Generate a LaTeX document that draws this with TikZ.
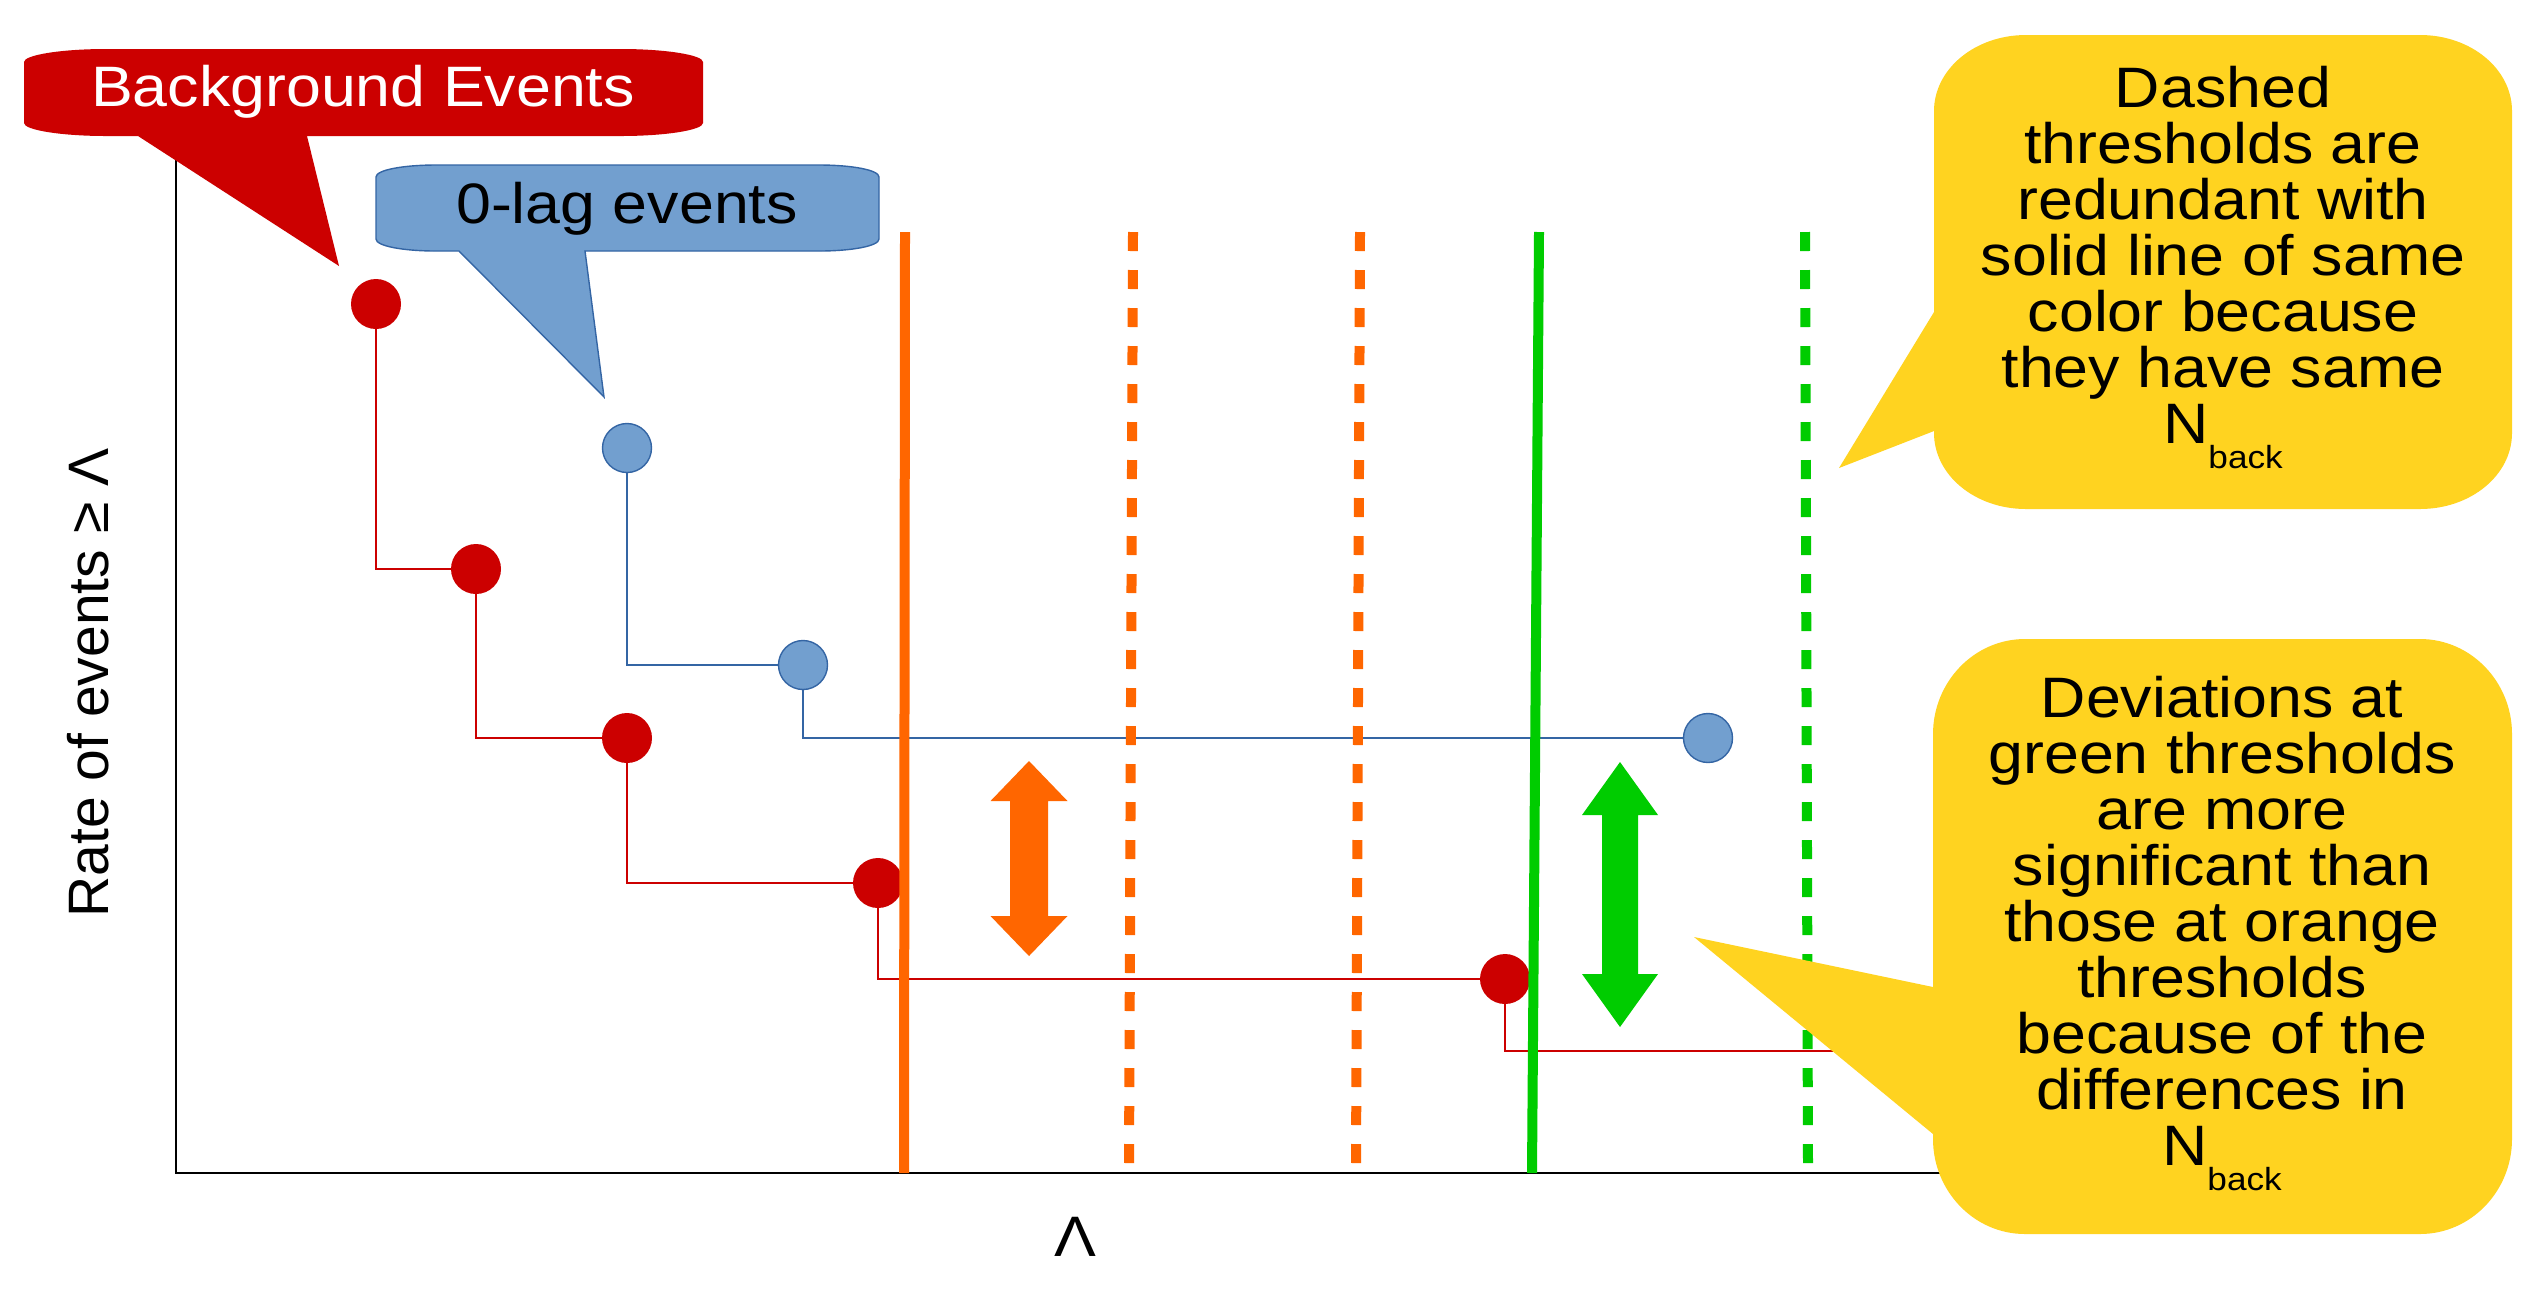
\documentclass[tikz,border=0pt]{standalone}
\usepackage{fontspec}
\setmainfont{Liberation Sans}
\newfontfamily\sfont[FakeStretch=1.1]{Liberation Sans}
\newfontfamily\rfont{Liberation Sans}
\definecolor{redc}{HTML}{CC0000}
\definecolor{bluef}{HTML}{729FCF}
\definecolor{bluel}{HTML}{3465A4}
\definecolor{orangec}{HTML}{FF6600}
\definecolor{greenc}{HTML}{00CC00}
\definecolor{yellowc}{HTML}{FFD320}
\newcommand\clines[1]{\vtop{\baselineskip=28pt\lineskiplimit=-100pt\lineskip=0pt\halign{\hfil##\hfil\cr#1\crcr}}}
\newcommand\nback{N\raisebox{-12.5pt}{\fontsize{16pt}{16pt}\selectfont back}}
\begin{document}
\begin{tikzpicture}[x=0.5pt,y=-0.5pt,
  reddot/.style={circle, fill=redc, inner sep=0pt, minimum size=25pt},
  bluedot/.style={circle, fill=bluef, draw=bluel, line width=0.7pt, inner sep=0pt, minimum size=24.5pt},
  redstep/.style={draw=redc, line width=0.75pt},
  bluestep/.style={draw=bluel, line width=0.75pt},
  axisline/.style={draw=black, line width=1pt},
  solidth/.style={line width=5pt},
  dashth/.style={line width=5pt, dash pattern=on 9.5pt off 9.5pt},
  ctext/.style={font=\sfont\fontsize{28.5pt}{28pt}\selectfont, inner sep=0pt, anchor=base}]
\path[use as bounding box, fill=white] (0,0) rectangle (2537,1298);

% axes
\coordinate (ytop) at (176,140);
\coordinate (orig) at (176,1173);
\coordinate (xend) at (1960,1173);
\draw[axisline] (ytop) -- (orig) -- (xend);

% points
\node[reddot] (r1) at (376,304) {};
\node[reddot] (r2) at (476,569) {};
\node[reddot] (r3) at (627,738) {};
\node[reddot] (r4) at (878,883) {};
\node[reddot] (r5) at (1505,979) {};
\coordinate (rend) at (1960,1051);
\node[bluedot] (b1) at (627,448) {};
\node[bluedot] (b2) at (803,665) {};
\node[bluedot] (b3) at (1708,738) {};

% step lines between the dots
\path[redstep] (r1.south) |- (r2.west) (r2.south) |- (r3.west) (r3.south) |- (r4.west) (r4.south) |- (r5.west) (r5.south) |- (rend);
\path[bluestep] (b1.south) |- (b2.west) (b2.south) |- (b3.west);

% thresholds
\coordinate (o1t) at (905,232);  \coordinate (o1b) at (904,1173);
\coordinate (o2t) at (1133,232); \coordinate (o2b) at (1129,1166);
\coordinate (o3t) at (1360,232); \coordinate (o3b) at (1356,1166);
\coordinate (g1t) at (1539,232); \coordinate (g1b) at (1532,1173);
\coordinate (g2t) at (1805,232); \coordinate (g2b) at (1808,1166);
\draw[solidth, orangec] (o1t) -- (o1b);
\draw[dashth, orangec] (o2t) -- (o2b);
\draw[dashth, orangec] (o3t) -- (o3b);
\draw[solidth, greenc] (g1t) -- (g1b);
\draw[dashth, greenc] (g2t) -- (g2b);

% double arrows
\fill[orangec] (1029,761) -- (1067.5,801) -- (1048,801) -- (1048,916) -- (1067.5,916) -- (1029,956) -- (990.5,916) -- (1010,916) -- (1010,801) -- (990.5,801) -- cycle;
\fill[greenc] (1620,762) -- (1658,815) -- (1638,815) -- (1638,974) -- (1658,974) -- (1620,1027) -- (1582,974) -- (1602,974) -- (1602,815) -- (1582,815) -- cycle;

% red callout
\fill[redc] (106,49) -- (621,49) .. controls (666,49) and (703,55) .. (703,62) -- (703,123) .. controls (703,130) and (666,136) .. (621,136) -- (307,136) -- (339,266) -- (138,136) -- (106,136) .. controls (61,136) and (24,130) .. (24,123) -- (24,62) .. controls (24,55) and (61,49) .. (106,49) -- cycle;
\node[ctext, text=white] (lblbg) at (363,106) {Background Events};

% blue callout
\filldraw[fill=bluef, draw=bluel, line width=0.7pt] (436,165) -- (819,165) .. controls (852,165) and (879,170) .. (879,177) -- (879,239) .. controls (879,246) and (852,251) .. (819,251) -- (585,251) -- (604,397) -- (459,251) -- (436,251) .. controls (403,251) and (376,246) .. (376,239) -- (376,177) .. controls (376,170) and (403,165) .. (436,165) -- cycle;
\node[ctext, text=black] (lbl0) at (627,223) {0-lag events};

% yellow callout 1
\fill[yellowc] (2026,35) -- (2420,35) .. controls (2471,35) and (2512,69) .. (2512,111) -- (2512,433) .. controls (2512,475) and (2471,509) .. (2420,509) -- (2026,509) .. controls (1975,509) and (1934,475) .. (1934,433) -- (1934,431) -- (1839,468) -- (1934,312) -- (1934,111) .. controls (1934,69) and (1975,35) .. (2026,35) -- cycle;
\node[ctext] (note1) at (2223,107) {\clines{Dashed\cr thresholds are\cr redundant with\cr solid line of same\cr color because\cr they have same\cr \nback}};

% yellow callout 2
\fill[yellowc] (2025,639) -- (2420,639) .. controls (2471,639) and (2512,682) .. (2512,734) -- (2512,1139) .. controls (2512,1191) and (2471,1234) .. (2420,1234) -- (2025,1234) .. controls (1974,1234) and (1933,1191) .. (1933,1139) -- (1933,1134) -- (1694,937) -- (1933,987) -- (1933,734) .. controls (1933,682) and (1974,639) .. (2025,639) -- cycle;
\node[ctext] (note2) at (2222,717) {\clines{Deviations at\cr green thresholds\cr are more\cr significant than\cr those at orange\cr thresholds\cr because of the\cr differences in\cr \nback}};

% axis labels
\node[font=\rfont\fontsize{28.5pt}{28pt}\selectfont, inner sep=0pt, anchor=base, rotate=90] (ylab) at (108,683) {Rate of events ≥ Λ};
\node[ctext] (xlab) at (1075,1256) {Λ};
\end{tikzpicture}
\end{document}
